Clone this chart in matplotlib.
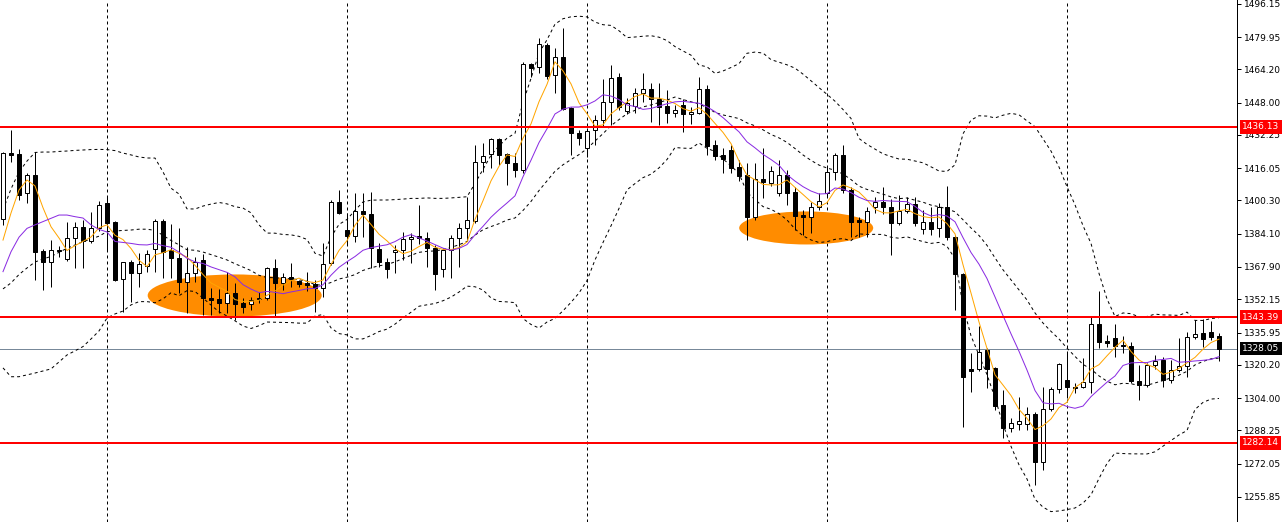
import numpy as np
import pandas as pd
import matplotlib
matplotlib.use("Agg")
import matplotlib.pyplot as plt
import matplotlib.transforms as mtransforms
from matplotlib.patches import Ellipse

# candle data, oldest first
opens = [1391.3, 1423.3, 1423.0, 1404.1, 1412.7, 1375.7, 1370.5, 1376.0, 1371.6, 1382.2,
         1387.2, 1380.7, 1386.7, 1398.9, 1389.8, 1361.9, 1370.2, 1365.1, 1368.4, 1376.5,
         1390.3, 1376.2, 1372.3, 1360.6, 1365.0, 1371.3, 1352.8, 1352.3, 1350.3, 1355.1,
         1350.2, 1349.9, 1352.1, 1352.8, 1367.3, 1360.1, 1362.9, 1361.1, 1360.0, 1359.6,
         1357.5, 1369.8, 1399.4, 1385.9, 1383.0, 1395.2, 1393.6, 1376.7, 1370.5, 1375.1,
         1376.2, 1381.4, 1382.9, 1382.2, 1377.0, 1366.8, 1376.2, 1382.2, 1387.1, 1390.3,
         1419.1, 1423.0, 1430.1, 1422.8, 1418.4, 1415.2, 1466.7, 1465.4, 1476.1, 1461.5,
         1470.1, 1445.4, 1433.0, 1425.9, 1434.7, 1439.5, 1448.3, 1460.3, 1443.9, 1446.3,
         1452.7, 1454.5, 1449.6, 1446.3, 1442.9, 1446.8, 1442.3, 1442.9, 1454.5, 1427.3,
         1422.5, 1424.9, 1416.5, 1412.7, 1392.3, 1410.8, 1408.8, 1403.9, 1412.7, 1404.3,
         1393.2, 1392.3, 1397.1, 1403.9, 1414.2, 1422.5, 1405.4, 1390.8, 1389.8, 1397.1,
         1399.7, 1397.0, 1389.3, 1395.2, 1398.6, 1386.4, 1389.7, 1386.9, 1397.0, 1382.4,
         1364.3, 1318.2, 1318.2, 1327.4, 1318.5, 1300.6, 1289.4, 1291.4, 1291.4, 1296.1,
         1272.9, 1298.7, 1308.4, 1312.8, 1309.6, 1309.4, 1311.8, 1340.1, 1331.8, 1333.1,
         1329.9, 1329.4, 1312.5, 1310.4, 1320.1, 1322.6, 1312.8, 1317.7, 1319.6, 1333.8,
         1335.6, 1336.1, 1334.3]
highs = [1424.0, 1434.7, 1425.2, 1413.5, 1424.1, 1376.5, 1381.0, 1378.1, 1389.8, 1389.8,
         1390.8, 1394.8, 1400.2, 1401.9, 1390.3, 1370.5, 1371.3, 1374.6, 1376.2, 1391.1,
         1391.1, 1388.8, 1386.9, 1377.6, 1372.8, 1374.2, 1357.7, 1357.2, 1365.6, 1360.1,
         1352.6, 1353.4, 1355.9, 1367.9, 1371.8, 1364.8, 1369.7, 1361.6, 1365.6, 1361.6,
         1379.6, 1400.5, 1405.4, 1394.0, 1404.0, 1403.8, 1404.6, 1379.4, 1372.1, 1378.6,
         1385.1, 1384.3, 1398.1, 1385.1, 1378.6, 1377.0, 1383.5, 1389.3, 1402.2, 1427.3,
         1428.3, 1430.7, 1430.6, 1423.3, 1423.3, 1467.8, 1467.2, 1479.5, 1477.2, 1474.7,
         1484.2, 1446.0, 1434.6, 1435.4, 1442.0, 1459.5, 1466.3, 1462.6, 1450.1, 1455.1,
         1462.4, 1457.6, 1457.6, 1454.1, 1446.8, 1449.6, 1446.0, 1460.6, 1456.6, 1429.8,
         1425.7, 1427.3, 1420.0, 1418.6, 1418.6, 1425.9, 1417.1, 1420.0, 1415.2, 1406.9,
         1395.7, 1399.6, 1404.0, 1416.6, 1423.4, 1427.3, 1406.9, 1392.4, 1397.1, 1402.2,
         1406.9, 1400.9, 1403.0, 1401.9, 1402.2, 1395.7, 1397.1, 1399.0, 1407.4, 1383.5,
         1364.8, 1325.9, 1339.1, 1328.3, 1319.3, 1307.9, 1294.2, 1304.7, 1299.7, 1297.4,
         1309.4, 1309.6, 1321.3, 1325.9, 1311.2, 1323.5, 1344.0, 1356.2, 1334.8, 1340.1,
         1334.3, 1331.5, 1320.1, 1321.0, 1325.0, 1324.2, 1322.6, 1333.3, 1336.2, 1342.1,
         1342.4, 1341.6, 1335.6]
lows = [1388.4, 1419.2, 1400.5, 1398.9, 1361.6, 1356.7, 1358.3, 1372.9, 1371.0, 1367.3,
        1367.3, 1379.6, 1385.5, 1376.2, 1361.2, 1346.1, 1351.0, 1358.3, 1365.6, 1365.6,
        1362.4, 1362.5, 1355.2, 1345.5, 1360.6, 1344.5, 1344.5, 1345.3, 1345.3, 1342.1,
        1345.3, 1346.9, 1350.5, 1351.8, 1343.6, 1356.7, 1358.3, 1358.3, 1356.0, 1346.0,
        1353.4, 1368.9, 1393.7, 1378.6, 1380.1, 1382.7, 1367.3, 1368.0, 1362.4, 1364.8,
        1371.3, 1369.7, 1379.0, 1367.9, 1356.7, 1363.2, 1362.5, 1367.9, 1381.1, 1389.3,
        1414.2, 1416.1, 1417.6, 1407.8, 1411.8, 1413.7, 1460.6, 1462.4, 1459.5, 1452.8,
        1444.4, 1422.5, 1427.3, 1421.5, 1427.3, 1436.1, 1437.1, 1444.4, 1442.4, 1442.9,
        1448.3, 1438.7, 1437.1, 1438.1, 1440.8, 1433.8, 1437.6, 1442.4, 1422.5, 1420.0,
        1413.7, 1413.7, 1409.9, 1381.1, 1390.8, 1401.5, 1407.4, 1402.5, 1398.1, 1385.9,
        1383.5, 1384.5, 1395.7, 1402.5, 1410.3, 1403.9, 1382.5, 1382.5, 1382.5, 1394.1,
        1393.7, 1373.7, 1388.4, 1394.0, 1387.9, 1384.0, 1383.5, 1382.5, 1381.1, 1346.9,
        1290.1, 1307.1, 1317.2, 1308.9, 1298.2, 1284.6, 1287.6, 1288.5, 1288.2, 1261.7,
        1269.0, 1297.7, 1306.5, 1304.0, 1306.3, 1308.8, 1306.5, 1328.4, 1328.8, 1324.1,
        1326.0, 1311.2, 1303.1, 1309.4, 1318.0, 1309.4, 1311.4, 1316.7, 1314.3, 1332.8,
        1328.9, 1332.3, 1322.1]
closes = [1423.4, 1422.5, 1403.0, 1412.7, 1375.4, 1370.2, 1376.2, 1375.6, 1382.2, 1387.2,
          1380.7, 1386.7, 1398.1, 1389.5, 1361.6, 1370.2, 1365.1, 1369.4, 1374.1, 1390.3,
          1375.3, 1372.3, 1360.6, 1365.0, 1370.3, 1352.8, 1351.8, 1350.3, 1355.1, 1349.9,
          1348.5, 1351.8, 1352.9, 1367.4, 1360.1, 1363.0, 1362.2, 1359.6, 1359.1, 1357.5,
          1369.3, 1399.6, 1394.2, 1383.0, 1395.2, 1393.6, 1377.0, 1370.5, 1366.8, 1376.2,
          1381.4, 1382.7, 1382.1, 1377.0, 1364.3, 1376.2, 1382.0, 1387.1, 1390.8, 1419.1,
          1422.0, 1430.3, 1422.5, 1418.6, 1415.2, 1466.8, 1464.9, 1476.6, 1461.0, 1470.1,
          1444.7, 1433.2, 1430.6, 1434.2, 1439.5, 1448.3, 1460.0, 1446.0, 1447.8, 1452.7,
          1454.6, 1449.8, 1446.0, 1442.9, 1444.4, 1442.3, 1443.4, 1454.6, 1426.9, 1422.0,
          1420.5, 1416.1, 1412.2, 1392.3, 1410.8, 1409.3, 1414.7, 1412.7, 1403.9, 1392.7,
          1392.1, 1397.1, 1400.1, 1414.2, 1422.5, 1405.4, 1389.8, 1390.0, 1395.2, 1399.6,
          1397.0, 1389.3, 1395.2, 1398.6, 1389.3, 1389.8, 1386.4, 1397.1, 1382.5, 1364.5,
          1314.4, 1317.4, 1326.5, 1318.2, 1300.2, 1289.4, 1291.9, 1292.8, 1296.3, 1272.9,
          1298.7, 1308.4, 1320.6, 1309.3, 1308.8, 1311.9, 1340.1, 1331.2, 1331.0, 1329.4,
          1329.4, 1312.5, 1310.4, 1320.1, 1322.1, 1312.8, 1317.7, 1319.6, 1333.8, 1335.2,
          1332.8, 1333.8, 1328.05]

# indicator values for the first bars (history before the window)
fast_head = [1381.0, 1394.2, 1405.4, 1410.3]
slow_head = [1365.6, 1375.3, 1382.4, 1386.7, 1388.4, 1390.0, 1391.6, 1393.2, 1393.2, 1392.4]
bb_mid_head = [1357.2, 1360.1, 1364.2, 1367.4, 1370.3, 1371.8, 1373.0, 1375.0, 1377.0, 1378.6,
               1380.2, 1381.5, 1382.9, 1385.1, 1385.4, 1385.7, 1385.9, 1386.3, 1386.3]
bb_up_head = [1395.7, 1405.9, 1414.2, 1419.5, 1423.7, 1423.9, 1423.9, 1424.2, 1424.4, 1424.7,
              1424.9, 1425.1, 1425.2, 1425.1, 1424.6, 1423.4, 1422.5, 1421.5, 1421.0]
bb_lo_head = [1318.7, 1314.4, 1314.4, 1315.3, 1316.2, 1317.2, 1318.2, 1321.6, 1325.0, 1327.0,
              1329.1, 1332.8, 1336.7, 1343.0, 1345.0, 1346.4, 1349.4, 1351.0, 1351.0]

levels = [1436.13, 1343.39, 1282.14]
bid = 1328.05
axis_ticks = [1496.15, 1479.95, 1464.20, 1448.00, 1432.25, 1416.05, 1400.30, 1384.10,
              1367.90, 1352.15, 1335.95, 1320.20, 1304.00, 1288.25, 1272.05, 1255.85]
grid_bars = [13, 43, 73, 103, 133]
# marked zones: (centre bar, centre price, width in bars, height in price)
zones = [(28.96, 1354.0, 21.75, 20.5), (100.4, 1386.9, 16.75, 16.1)]

n = len(closes)
x = np.arange(n)
cs = pd.Series(closes)

fast = cs.rolling(5).mean()
fast.iloc[:len(fast_head)] = fast_head
slow = cs.rolling(11).mean()
slow.iloc[:len(slow_head)] = slow_head
mid = cs.rolling(20).mean()
sd = cs.rolling(20).std(ddof=0)
up = mid + 2 * sd
lo = mid - 2 * sd
mid.iloc[:19] = bb_mid_head
up.iloc[:19] = bb_up_head
lo.iloc[:19] = bb_lo_head

PX = 0.72  # one pixel in points at dpi 100

fig = plt.figure(figsize=(12.84, 5.22), dpi=100)
ax = fig.add_axes([0, 0, 1237 / 1284, 1])
ax.set_xlim(-0.375, -0.375 + 1237 / 8)
ax.set_ylim(1243.6, 1498.0)

for g in grid_bars:
    ax.axvline(g, color="black", lw=PX, ls=(0, (3, 3)), zorder=1)

for cx, cy, w, h in zones:
    ax.add_patch(Ellipse((cx, cy), w, h, color="#FF8C00", lw=0, zorder=2))

ax.axhline(bid, color="#778899", lw=PX, zorder=2)

for band in (up, mid, lo):
    ax.plot(x, band, color="black", lw=PX, ls=(0, (3, 3)), zorder=3)

o = np.array(opens)
c = np.array(closes)
bull = c >= o
ax.vlines(x, lows, highs, color="black", lw=PX, zorder=4)
body_lo = np.minimum(o, c)
body_h = np.maximum(np.abs(c - o), 0.05)
ax.bar(x[bull], body_h[bull], bottom=body_lo[bull], width=0.5,
       facecolor="white", edgecolor="black", linewidth=PX, zorder=5)
ax.bar(x[~bull], body_h[~bull], bottom=body_lo[~bull], width=0.5,
       facecolor="black", edgecolor="black", linewidth=PX, zorder=5)

ax.plot(x, fast, color="#FFA500", lw=PX, zorder=6)
ax.plot(x, slow, color="#8A2BE2", lw=PX, zorder=6)

for lv in levels:
    ax.axhline(lv, color="#FF0000", lw=2 * PX, zorder=7)

for s in ("top", "left", "bottom"):
    ax.spines[s].set_visible(False)
ax.spines["right"].set_linewidth(PX)
ax.set_xticks([])
ax.yaxis.tick_right()
ax.set_yticks(axis_ticks)
ax.set_yticklabels([f"{t:.2f}" for t in axis_ticks])
ax.tick_params(axis="y", length=4 * PX, width=PX, pad=2, labelsize=6.5, colors="black")

tr = mtransforms.blended_transform_factory(ax.transAxes, ax.transData)
x_lab = 1 + 5 / 1237
for lv in levels:
    ax.text(x_lab, lv, f"{lv:.2f}", transform=tr, fontsize=6.5, color="white",
            va="center", ha="left", clip_on=False, zorder=10,
            bbox=dict(boxstyle="square,pad=0.25", fc="#FF0000", ec="none"))
ax.text(x_lab, bid, f"{bid:.2f}", transform=tr, fontsize=6.5, color="white",
        va="center", ha="left", clip_on=False, zorder=10,
        bbox=dict(boxstyle="square,pad=0.25", fc="black", ec="none"))

plt.savefig("out.png", dpi=100)
